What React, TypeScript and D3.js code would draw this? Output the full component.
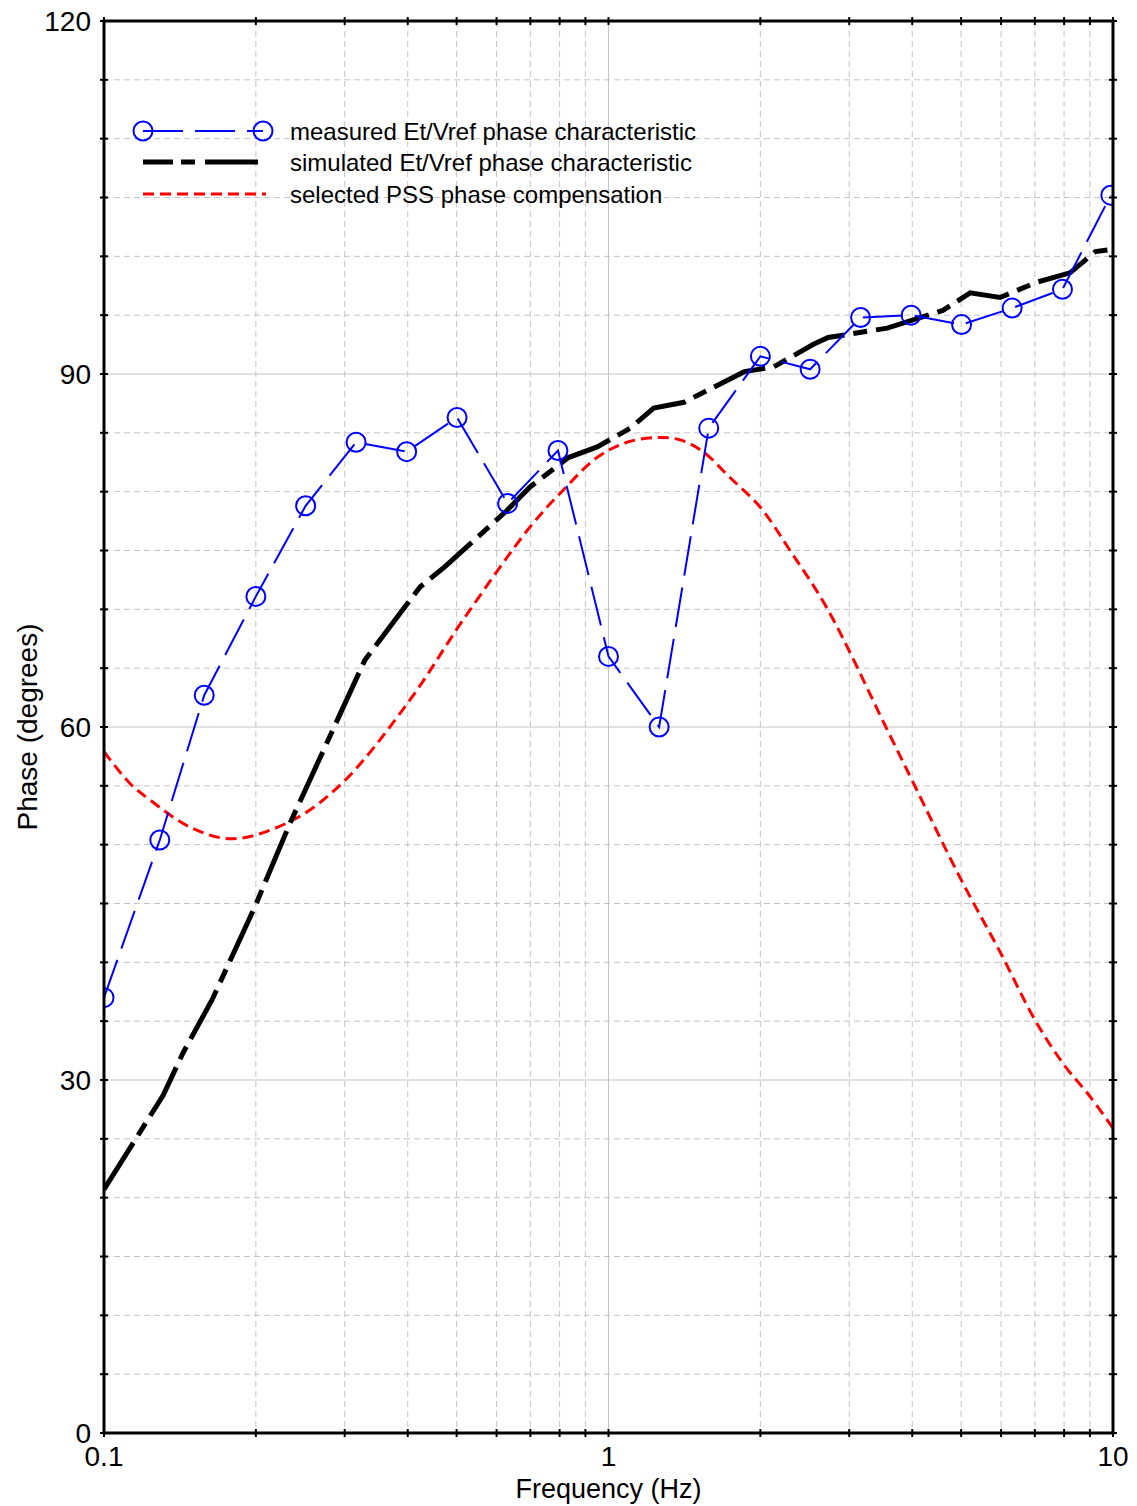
import React from 'react';
import * as d3 from 'd3';

// Measured Et/Vref phase
const MEASURED_FREQ = [0.1, 0.129, 0.158, 0.2, 0.251, 0.316, 0.398, 0.501, 0.631, 0.794, 1, 1.26, 1.58, 2, 2.51, 3.16, 3.98, 5.01, 6.31, 7.94, 9.9];
const MEASURED_PHASE = [37.0, 50.4, 62.7, 71.1, 78.8, 84.2, 83.4, 86.3, 79.0, 83.5, 66.0, 60.0, 85.4, 91.5, 90.4, 94.8, 95.0, 94.2, 95.6, 97.2, 105.2];

// Simulated Et/Vref phase
const SIMULATED_FREQ = [0.1, 0.131, 0.1434, 0.1637, 0.199, 0.2336, 0.329, 0.423, 0.4735, 0.629, 0.699, 0.8328, 0.9497, 1.105, 1.229, 1.4116, 1.6198, 1.8588, 2.1246, 2.543, 2.7245, 3.57, 4.6, 5.21, 5.97, 7.06, 8.22, 9.23, 10];
const SIMULATED_PHASE = [20.7, 28.7, 32.3, 36.8, 44.7, 51.8, 65.7, 71.9, 73.6, 78.4, 80.4, 82.9, 83.8, 85.4, 87.1, 87.6, 88.9, 90.2, 90.6, 92.5, 93.1, 93.9, 95.4, 96.9, 96.5, 97.8, 98.6, 100.4, 100.6];

// Selected PSS phase compensation
const PSS_FREQ = [0.1, 0.1126, 0.1234, 0.148, 0.18, 0.237, 0.2976, 0.404, 0.515, 0.699, 0.812, 0.949, 1.088, 1.248, 1.386, 1.539, 1.741, 1.997, 2.29, 2.711, 3.565, 4.015, 4.975, 5.97, 7.005, 7.961, 9.003, 10];
const PSS_PHASE = [57.9, 55.2, 53.8, 51.5, 50.5, 52.1, 55.3, 62.3, 69.1, 77.0, 80.1, 82.9, 84.2, 84.6, 84.4, 83.4, 81.2, 78.7, 75.0, 70.1, 59.8, 55.3, 47.2, 40.9, 35.1, 31.4, 28.6, 25.9];

const Y_LABELS = [0, 30, 60, 90, 120];
const X_LABELS = [0.1, 1, 10];
const LEGEND_LABELS = [
  'measured Et/Vref phase characteristic',
  'simulated Et/Vref phase characteristic',
  'selected PSS phase compensation',
];

const W = 1137;
const H = 1506;
const PLOT = { left: 104, right: 1113, top: 21, bottom: 1433 };
const FONT = '"Liberation Sans", Arial, sans-serif';

const BLUE_DASH = '40,12';
const BLACK_DASH = '55,9,14,9';
const RED_DASH = '11,6';

export default function App() {
  const x = d3.scaleLog().domain([0.1, 10]).range([PLOT.left, PLOT.right]);
  const y = d3.scaleLinear().domain([0, 120]).range([PLOT.bottom, PLOT.top]);

  const xTicks = x.ticks();
  const yTicks = d3.range(0, 121, 5);

  const measured = MEASURED_FREQ.map((f, i) => [f, MEASURED_PHASE[i]] as [number, number]);
  const simulated = SIMULATED_FREQ.map((f, i) => [f, SIMULATED_PHASE[i]] as [number, number]);
  const pss = PSS_FREQ.map((f, i) => [f, PSS_PHASE[i]] as [number, number]);

  const linear = d3.line<[number, number]>().x(d => x(d[0])).y(d => y(d[1]));
  const smooth = d3.line<[number, number]>().x(d => x(d[0])).y(d => y(d[1])).curve(d3.curveCatmullRom.alpha(0.5));

  const isMajorX = (t: number) => X_LABELS.some(v => Math.abs(v - t) < 1e-9);
  const isMajorY = (t: number) => t % 30 === 0;

  const legendX0 = 143;
  const legendRows = [131, 162, 194];

  return (
    <svg width={W} height={H} style={{ position: 'absolute', left: 0, top: 0, background: '#fff' }} fontFamily={FONT}>
      <defs>
        <clipPath id="plot-clip">
          <rect x={PLOT.left} y={PLOT.top} width={PLOT.right - PLOT.left} height={PLOT.bottom - PLOT.top} />
        </clipPath>
      </defs>
      <rect x={0} y={0} width={W} height={H} fill="#fff" />

      {/* grid */}
      <g>
        {xTicks.filter(t => t > 0.1 && t < 10).map(t => (
          <line key={'gx' + t} x1={x(t)} x2={x(t)} y1={PLOT.top} y2={PLOT.bottom}
            stroke="#c4c4c4" strokeWidth={1} strokeDasharray={isMajorX(t) ? undefined : '6,4'} />
        ))}
        {yTicks.filter(t => t > 0 && t < 120).map(t => (
          <line key={'gy' + t} x1={PLOT.left} x2={PLOT.right} y1={y(t)} y2={y(t)}
            stroke="#c4c4c4" strokeWidth={1} strokeDasharray={isMajorY(t) ? undefined : '6,4'} />
        ))}
      </g>

      {/* series */}
      <g clipPath="url(#plot-clip)">
        <path d={smooth(pss) ?? ''} fill="none" stroke="#ff0000" strokeWidth={3} strokeDasharray={RED_DASH} />
        <path d={linear(simulated) ?? ''} fill="none" stroke="#000" strokeWidth={5} strokeDasharray={BLACK_DASH} />
        <path d={linear(measured) ?? ''} fill="none" stroke="#0000ff" strokeWidth={2} strokeDasharray={BLUE_DASH} />
        {measured.map((d, i) => (
          <circle key={'m' + i} cx={x(d[0])} cy={y(d[1])} r={9.5} fill="none" stroke="#0000ff" strokeWidth={2} />
        ))}
      </g>

      {/* frame */}
      <rect x={PLOT.left} y={PLOT.top} width={PLOT.right - PLOT.left} height={PLOT.bottom - PLOT.top}
        fill="none" stroke="#000" strokeWidth={3} />

      {/* ticks */}
      <g stroke="#000" strokeWidth={2}>
        {xTicks.map(t => (
          <g key={'tx' + t}>
            <line x1={x(t)} x2={x(t)} y1={PLOT.bottom - 4} y2={PLOT.bottom + 4} />
            <line x1={x(t)} x2={x(t)} y1={PLOT.top - 4} y2={PLOT.top + 4} />
          </g>
        ))}
        {yTicks.map(t => (
          <g key={'ty' + t}>
            <line x1={PLOT.left - 4} x2={PLOT.left + 4} y1={y(t)} y2={y(t)} />
            <line x1={PLOT.right - 4} x2={PLOT.right + 4} y1={y(t)} y2={y(t)} />
          </g>
        ))}
      </g>

      {/* tick labels */}
      <g fontSize={28} fill="#000">
        {Y_LABELS.map(t => (
          <text key={'ly' + t} x={PLOT.left - 13} y={y(t)} textAnchor="end" dominantBaseline="central">{t}</text>
        ))}
        {X_LABELS.map(t => (
          <text key={'lx' + t} x={x(t)} y={PLOT.bottom + 33} textAnchor="middle">{d3.format('~g')(t)}</text>
        ))}
      </g>

      {/* axis titles */}
      <text x={(PLOT.left + PLOT.right) / 2} y={1498} textAnchor="middle" fontSize={27} fill="#000">Frequency (Hz)</text>
      <text transform={`translate(27,${(PLOT.top + PLOT.bottom) / 2}) rotate(-90)`} textAnchor="middle"
        dominantBaseline="central" fontSize={28} fill="#000">Phase (degrees)</text>

      {/* legend */}
      <g>
        <line x1={legendX0} x2={263} y1={legendRows[0]} y2={legendRows[0]} stroke="#0000ff" strokeWidth={2} strokeDasharray={BLUE_DASH} />
        <circle cx={legendX0} cy={legendRows[0]} r={9.5} fill="none" stroke="#0000ff" strokeWidth={2} />
        <circle cx={263} cy={legendRows[0]} r={9.5} fill="none" stroke="#0000ff" strokeWidth={2} />
        <line x1={legendX0} x2={258} y1={legendRows[1]} y2={legendRows[1]} stroke="#000" strokeWidth={5} strokeDasharray="30,8,14,10,60" />
        <line x1={legendX0} x2={266} y1={legendRows[2]} y2={legendRows[2]} stroke="#ff0000" strokeWidth={3} strokeDasharray={RED_DASH} />
        {LEGEND_LABELS.map((s, i) => (
          <text key={'lg' + i} x={290} y={legendRows[i]} dominantBaseline="central" fontSize={24} fill="#000">{s}</text>
        ))}
      </g>
    </svg>
  );
}
